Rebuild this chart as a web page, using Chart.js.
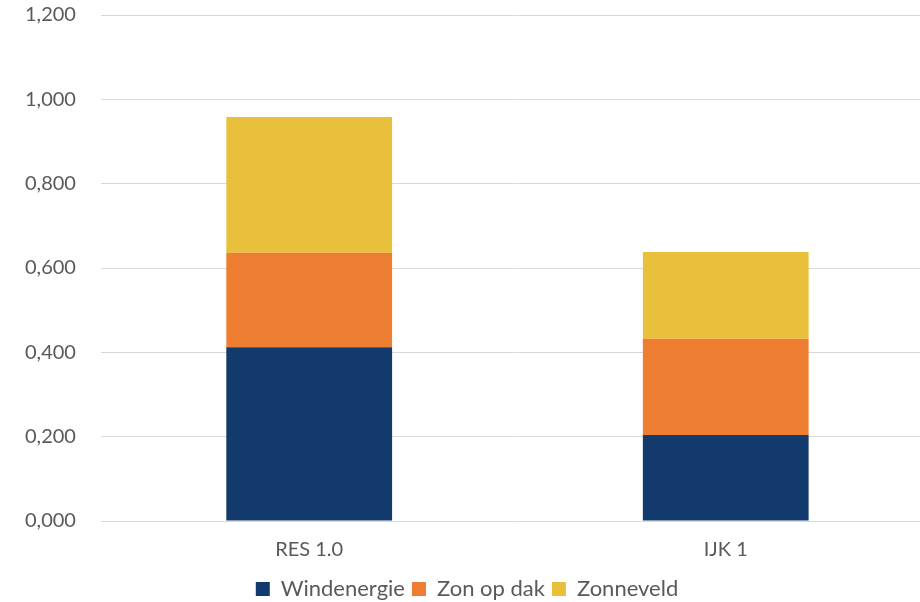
<!DOCTYPE html>
<html>
<head>
<meta charset="utf-8">
<script src="https://cdn.jsdelivr.net/npm/chart.js@4/dist/chart.umd.min.js"></script>
<style>
    html, body { margin: 0; padding: 0; background: #fff; overflow: hidden; }
    #wrap { width: 934px; height: 612px; }
</style>
</head>
<body>
<div id="wrap"><canvas id="energyChart" width="934" height="612"></canvas></div>
<script>
// Categories and series
const categories = ['RES 1.0', 'IJK 1'];
const windenergie = [0.412, 0.204];
const zonOpDak = [0.224, 0.228];
const zonneveld = [0.322, 0.206];

const textColor = '#595959';
const fontFamily = 'Lato, "Open Sans", sans-serif';

const ctx = document.getElementById('energyChart').getContext('2d');

new Chart(ctx, {
    type: 'bar',
    data: {
        labels: categories,
        datasets: [
            { label: 'Windenergie', data: windenergie, backgroundColor: '#123a6d' },
            { label: 'Zon op dak', data: zonOpDak, backgroundColor: '#ed7d31' },
            { label: 'Zonneveld', data: zonneveld, backgroundColor: '#e9c03b' }
        ]
    },
    options: {
        responsive: false,
        animation: false,
        devicePixelRatio: 1,
        layout: {
            padding: { top: 0, left: 0, right: 0, bottom: 2 }
        },
        datasets: {
            bar: {
                barPercentage: 0.398,
                categoryPercentage: 1.0
            }
        },
        scales: {
            x: {
                stacked: true,
                grid: { display: false },
                border: { display: false },
                ticks: {
                    color: textColor,
                    padding: 9,
                    font: { family: fontFamily, size: 20 }
                }
            },
            y: {
                stacked: true,
                min: 0,
                max: 1.2,
                grid: { color: '#d9d9d9', lineWidth: 1, drawTicks: false },
                border: { display: false },
                afterFit: scale => {
                    // keep the top gridline close to the canvas edge
                    scale.paddingTop = 15;
                },
                ticks: {
                    stepSize: 0.2,
                    padding: 25,
                    color: textColor,
                    font: { family: fontFamily, size: 20 },
                    callback: value => value.toFixed(3).replace('.', ',')
                }
            }
        },
        plugins: {
            tooltip: { enabled: false },
            legend: {
                position: 'bottom',
                labels: {
                    color: textColor,
                    boxWidth: 14,
                    boxHeight: 14,
                    padding: 7,
                    font: { family: fontFamily, size: 22 }
                }
            }
        }
    }
});
</script>
</body>
</html>
